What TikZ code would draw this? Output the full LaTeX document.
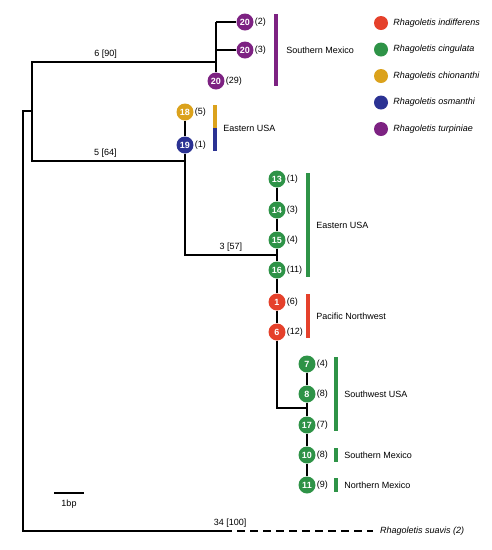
\documentclass[tikz,border=0pt]{standalone}
\usepackage{fontspec}
\setmainfont{Liberation Sans}
\usetikzlibrary{positioning}
\definecolor{indiff}{HTML}{E5412B}
\definecolor{cingul}{HTML}{2E9347}
\definecolor{chion}{HTML}{DBA21C}
\definecolor{osman}{HTML}{2B3293}
\definecolor{turpin}{HTML}{7D2282}

\begin{document}
\begin{tikzpicture}[x=1pt, y=-1pt, font=\fontsize{9}{10}\selectfont,
  hap/.style={circle, fill=#1, minimum size=17pt, inner sep=0pt, text=white, font=\fontsize{9}{10}\selectfont\bfseries},
  count/.style={inner sep=1pt, text=black, font=\normalfont\fontsize{9}{10}\selectfont},
  branch/.style={line width=1.3pt, black},
  regionbar/.style={fill=#1, minimum width=4pt, inner sep=0pt},
  region/.style={inner sep=1pt, anchor=west},
  key/.style={circle, fill=#1, minimum size=14pt, inner sep=0pt}]
\useasboundingbox (0,0) rectangle (492,550);

% junctions of the tree
\coordinate (root) at (23,111);
\coordinate (rootb) at (23,531);
\coordinate (jA) at (32,62);
\coordinate (jB) at (32,161);
\coordinate (jT) at (216,62);
\coordinate (jT2) at (216,22);
\coordinate (jT3) at (216,50);
\coordinate (jO) at (185,161);
\coordinate (jO2) at (185,255);
\coordinate (jC) at (277,255);
\coordinate (jC2) at (277,408);
\coordinate (jS) at (307,408);
\coordinate (suav) at (224,531);

% turpiniae
\node[hap=turpin, label={[count]right:(2)}] (t2) at (245,22) {20};
\node[hap=turpin, label={[count]right:(3)}] (t3) at (245,50) {20};
\node[hap=turpin, label={[count]right:(29)}] (t29) at (216,81) {20};

% chionanthi / osmanthi
\node[hap=chion, label={[count]right:(5)}] (ch18) at (185,112) {18};
\node[hap=osman, label={[count]right:(1)}] (os19) at (185,145) {19};

% cingulata and indifferens
\node[hap=cingul, label={[count]right:(1)}] (ci13) at (277,179) {13};
\node[hap=cingul, label={[count]right:(3)}] (ci14) at (277,210) {14};
\node[hap=cingul, label={[count]right:(4)}] (ci15) at (277,240) {15};
\node[hap=cingul, label={[count]right:(11)}] (ci16) at (277,270) {16};
\node[hap=indiff, label={[count]right:(6)}] (in1) at (277,302) {1};
\node[hap=indiff, label={[count]right:(12)}] (in6) at (277,332) {6};
\node[hap=cingul, label={[count]right:(4)}] (ci7) at (307,364) {7};
\node[hap=cingul, label={[count]right:(8)}] (ci8) at (307,394) {8};
\node[hap=cingul, label={[count]right:(7)}] (ci17) at (307,425) {17};
\node[hap=cingul, label={[count]right:(8)}] (ci10) at (307,455) {10};
\node[hap=cingul, label={[count]right:(9)}] (ci11) at (307,485) {11};

% branches
\draw[branch] (suav) -- (rootb) -- (root) -- (root -| jA);
\draw[branch] (jT) -- node[above, pos=0.6] {6 [90]} (jA) -- (jB) -- node[above, pos=0.48] {5 [64]} (jO);
\draw[branch] (jT2) -- (t29);
\draw[branch] (jT2) -- (t2);
\draw[branch] (jT3) -- (t3);
\draw[branch] (ch18) -- (os19) -- (jO2) -- node[above] {3 [57]} (jC);
\draw[branch] (ci13) -- (ci14) -- (ci15) -- (ci16) -- (in1) -- (in6) -- (jC2) -- (jS);
\draw[branch] (ci7) -- (ci8) -- (ci17) -- (ci10) -- (ci11);

% outgroup
\node[region, font=\fontsize{9}{10}\selectfont\itshape] (suavis) at (379,531) {Rhagoletis suavis (2)};
\draw[line width=1.3pt, dash pattern=on 8pt off 5pt, shorten >=6pt] (suav) -- node[above, pos=0.04] {34 [100]} (suavis.west);

% regions
\node[regionbar=turpin, minimum height=72pt] (barT) at (276,50) {};
\node[region, right=7pt of barT] {Southern Mexico};
\node[regionbar=chion, minimum height=23pt, anchor=south] (barCh) at (215,128) {};
\node[regionbar=osman, minimum height=23pt, anchor=north] (barOs) at (215,128) {};
\node[region, right=5pt of barCh.south east] {Eastern USA};
\node[regionbar=cingul, minimum height=104pt] (barE) at (308,225) {};
\node[region, right=5pt of barE] {Eastern USA};
\node[regionbar=indiff, minimum height=44pt] (barP) at (308,316) {};
\node[region, right=5pt of barP] {Pacific Northwest};
\node[regionbar=cingul, minimum height=74pt] (barSW) at (336,394) {};
\node[region, right=5pt of barSW] {Southwest USA};
\node[regionbar=cingul, minimum height=14pt] (barSM) at (336,455) {};
\node[region, right=5pt of barSM] {Southern Mexico};
\node[regionbar=cingul, minimum height=14pt] (barNM) at (336,485) {};
\node[region, right=5pt of barNM] {Northern Mexico};

% legend
\foreach \col/\sp [count=\i] in {indiff/indifferens, cingul/cingulata, chion/chionanthi, osman/osmanthi, turpin/turpiniae}
{
  \node[key=\col] (key\i) at (381,{23+26.5*(\i-1)}) {};
  \node[region, right=4pt of key\i, font=\fontsize{9}{10}\selectfont\itshape] {Rhagoletis \sp};
}

% scale bar
\coordinate (sb1) at (54,493);
\coordinate (sb2) at (84,493);
\draw[branch] (sb1) -- node[below=3pt] {1bp} (sb2);
\end{tikzpicture}
\end{document}
